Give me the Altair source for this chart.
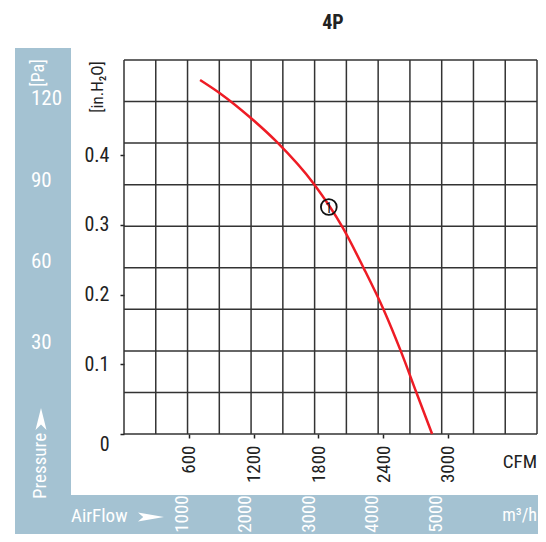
import altair as alt
import pandas as pd

# ---- data ----
cfm = [705, 888, 1178, 1416, 1758, 2027, 2221, 2407, 2566, 2711, 2855]
inh2o = [0.508, 0.489, 0.453, 0.419, 0.359, 0.296, 0.238, 0.178, 0.1185, 0.0588, 0.0]

cfm_ticks = [600, 1200, 1800, 2400, 3000]
inh2o_ticks = [0, 0.1, 0.2, 0.3, 0.4]
pa_labels = ["30", "60", "90", "120"]
pa_pos_inh2o = [0.131, 0.2472, 0.3635, 0.480]
m3h_labels = [1000, 2000, 3000, 4000, 5000]
M3H_PER_CFM = 1.699

marker_cfm = [1898]
marker_inh2o = [0.3257]
marker_text = ["1"]

X_MAX = 3827
Y_MAX = 0.5366
NCOL = 13
NROW = 9

FONT = "Liberation Sans Narrow, Arial Narrow, Roboto Condensed, DejaVu Sans Condensed, sans-serif"
BLUE = "#a4c2d2"
DARK = "#222222"
RED = "#ee1c25"

# plot area placement (page px): left edge 124, top 60
PL, PT = 124, 60
W, H = 413, 374


def px(v):
    return v - PL


def py(v):
    return v - PT


xscale = alt.Scale(domain=[0, X_MAX], nice=False, zero=False)
yscale = alt.Scale(domain=[0, Y_MAX], nice=False, zero=False)

xaxis = alt.Axis(
    values=cfm_ticks, format="d", title=None, grid=False, domain=False,
    tickSize=4, tickColor=DARK, tickWidth=1.5, labelAngle=270,
    labelFont=FONT, labelFontSize=19, labelColor=DARK, labelPadding=7)
yaxis = alt.Axis(
    values=inh2o_ticks, format="~g", title=None, grid=False, domain=False,
    tickSize=4, tickColor=DARK, tickWidth=1.5,
    labelFont=FONT, labelFontSize=20, labelColor=DARK, labelPadding=11,
    labelBaseline={"condition": {"test": "datum.value == 0", "value": "top"}, "value": "middle"})

one = pd.DataFrame({"t": [""]})


def X(field):
    return alt.X(field, scale=xscale, axis=xaxis)


def Y(field):
    return alt.Y(field, scale=yscale, axis=yaxis)


def label(text, x, y, size, color, angle=0, align="center", baseline="middle", weight="normal"):
    return alt.Chart(pd.DataFrame({"t": [text]})).mark_text(
        font=FONT, fontSize=size, color=color, angle=angle, align=align,
        baseline=baseline, fontWeight=weight
    ).encode(x=alt.value(px(x)), y=alt.value(py(y)), text="t:N")


left_band = alt.Chart(one).mark_rect(color=BLUE).encode(
    x=alt.value(px(15)), x2=alt.value(px(71)), y=alt.value(py(48)), y2=alt.value(py(495)))
bottom_band = alt.Chart(one).mark_rect(color=BLUE).encode(
    x=alt.value(px(15)), x2=alt.value(px(550)), y=alt.value(py(495)), y2=alt.value(py(545)))

vgrid = alt.Chart(pd.DataFrame({"gx": [k * X_MAX / NCOL for k in range(NCOL + 1)]})).mark_rule(
    color="#333333", strokeWidth=1.5).encode(x=X("gx:Q"))
hgrid = alt.Chart(pd.DataFrame({"gy": [k * Y_MAX / NROW for k in range(NROW + 1)]})).mark_rule(
    color="#333333", strokeWidth=1.5).encode(y=Y("gy:Q"))

curve = alt.Chart(pd.DataFrame({"cfm": cfm, "inh2o": inh2o})).mark_line(
    color=RED, strokeWidth=2.5, interpolate="monotone").encode(x=X("cfm:Q"), y=Y("inh2o:Q"))

mdf = pd.DataFrame({"cfm": marker_cfm, "inh2o": marker_inh2o, "t": marker_text})
marker_circle = alt.Chart(mdf).mark_point(
    shape="circle", size=250, filled=False, color="#111111", strokeWidth=1.8, opacity=1).encode(
    x=X("cfm:Q"), y=Y("inh2o:Q"))
marker_label = alt.Chart(mdf).mark_text(font=FONT, fontSize=15, color="#111111", dy=1).encode(
    x=X("cfm:Q"), y=Y("inh2o:Q"), text="t:N")

pa_text = alt.Chart(pd.DataFrame({"pa": pa_labels, "pos": pa_pos_inh2o})).mark_text(
    font=FONT, fontSize=21, color="white", align="left", baseline="middle").encode(
    x=alt.value(px(31)), y=Y("pos:Q"), text="pa:N")

m3h_df = pd.DataFrame({"m3h": m3h_labels, "c": [v / M3H_PER_CFM for v in m3h_labels]})
m3h_text = alt.Chart(m3h_df).mark_text(
    font=FONT, fontSize=19, color="white", angle=270, align="center", baseline="alphabetic").encode(
    x=X("c:Q"), y=alt.value(py(514)), text="m3h:N")

arrow_h = alt.Chart(one).mark_point(
    shape="M-1,-0.35L1,0L-1,0.35L-0.6,0Z", filled=True, color="white", size=676, opacity=1,
    strokeWidth=0).encode(x=alt.value(px(151)), y=alt.value(py(517)))
arrow_v = alt.Chart(one).mark_point(
    shape="M-0.5,1L0,-1L0.5,1L0,0.5Z", filled=True, color="white", size=484, opacity=1,
    strokeWidth=0).encode(x=alt.value(px(41)), y=alt.value(py(419)))

texts = [
    label("4P", 333, 23, 20, DARK, weight="bold"),
    label("[in.H\u2082O]", 98, 87, 17, DARK, angle=270),
    label("[Pa]", 39, 73, 18, "white", angle=270),
    label("Pressure", 40, 466, 19, "white", angle=270),
    label("AirFlow", 71, 516, 19, "white", align="left"),
    label("m\u00b3/h", 537, 516, 18, "white", align="right"),
    label("CFM", 537, 462, 19, DARK, align="right"),
]

chart = alt.layer(
    left_band, bottom_band, vgrid, hgrid, curve, marker_circle, marker_label,
    pa_text, m3h_text, arrow_h, arrow_v, *texts
).properties(
    width=W, height=H,
    autosize=alt.AutoSizeParams(type="none"),
    padding={"left": PL - 8, "top": PT - 8, "right": 530 - (PL - 8) - W, "bottom": 526 - (PT - 8) - H},
    background="white",
).configure_view(strokeWidth=0)

chart.save("out.html", embed_options={"renderer": "svg", "actions": False})
